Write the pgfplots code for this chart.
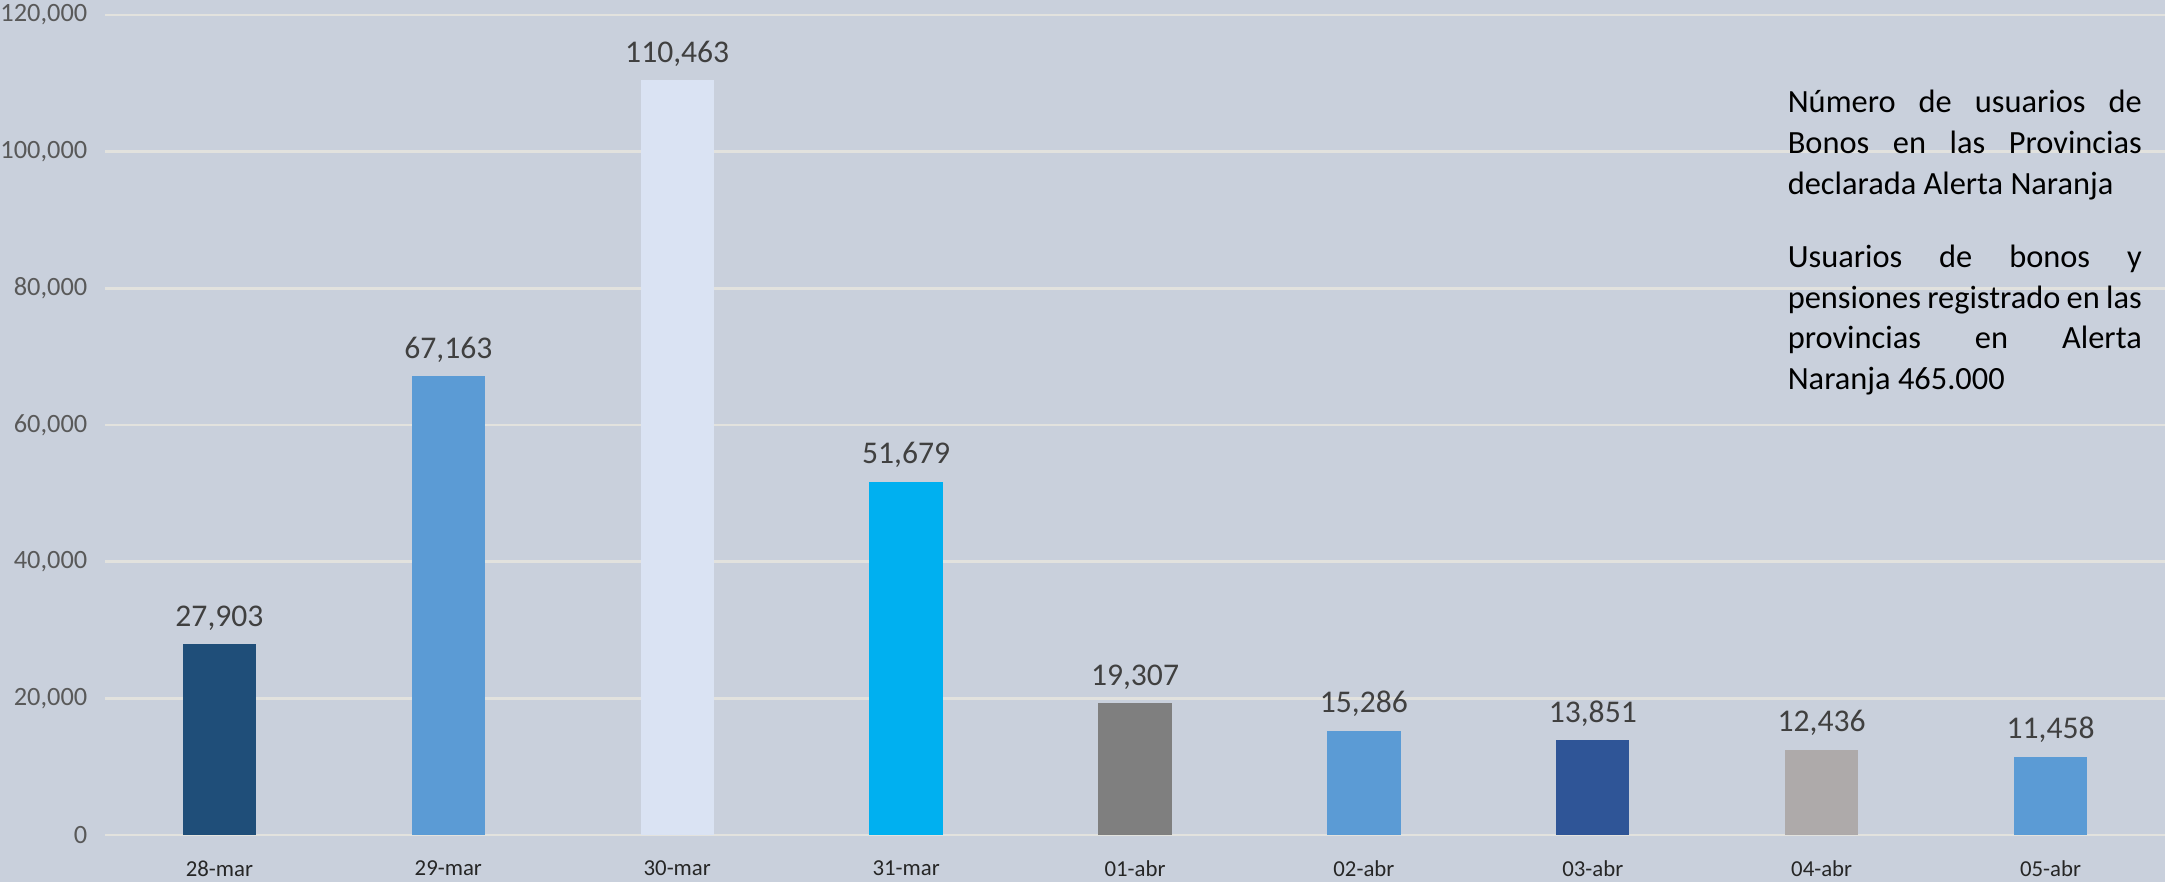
\documentclass[border=0pt]{standalone}
\usepackage{pgfplots}
\pgfplotsset{compat=1.18}
\usepackage{fontspec}
\setmainfont{Carlito}
\definecolor{bgc}{HTML}{C9D0DC}
\definecolor{gridc}{HTML}{E2E2DE}
\definecolor{cA}{HTML}{1F4E79}
\definecolor{cB}{HTML}{5B9BD5}
\definecolor{cC}{HTML}{DAE3F3}
\definecolor{cD}{HTML}{00B0F0}
\definecolor{cE}{HTML}{7F7F7F}
\definecolor{cF}{HTML}{2F5597}
\definecolor{cG}{HTML}{AEAAAA}
\newcommand{\jl}[1]{\makebox[88.5pt][s]{#1}}
\begin{document}
\begin{tikzpicture}
\fill[bgc] (0,0) rectangle (541.25pt,220.5pt);
\begin{axis}[
  at={(26.25pt,11.75pt)}, anchor=south west,
  scale only axis, width=515pt, height=205pt,
  xmin=-0.5, xmax=8.5, ymin=0, ymax=120000,
  ybar, bar shift=0pt, bar width=0.32,
  axis line style={draw=none},
  major tick length=0pt,
  xtick={0,1,2,3,4,5,6,7,8},
  xticklabels={28-mar,29-mar,30-mar,31-mar,01-abr,02-abr,03-abr,04-abr,05-abr},
  ytick={0,20000,40000,60000,80000,100000,120000},
  ymajorgrids, grid style={gridc, line width=0.6pt},
  /pgf/number format/assume math mode=true,
  /pgf/number format/.cd, fixed, precision=0, 1000 sep={,},
  /pgfplots/.cd,
  scaled y ticks=false,
  yticklabel style={font=\fontsize{6.6}{7.5}\selectfont, text=black!65, xshift=-0.9pt},
  xticklabel style={font=\fontsize{5.7}{7}\selectfont, text=black!85, yshift=-3pt},
  nodes near coords,
  every node near coord/.append style={font=\fontsize{7.9}{9}\selectfont, text=black!75, inner sep=3.3pt},
  clip=false,
]
\addplot[fill=cA, draw=none] coordinates {(0,27903)};
\addplot[fill=cB, draw=none] coordinates {(1,67163)};
\addplot[fill=cC, draw=none] coordinates {(2,110463)};
\addplot[fill=cD, draw=none] coordinates {(3,51679)};
\addplot[fill=cE, draw=none] coordinates {(4,19307)};
\addplot[fill=cB, draw=none] coordinates {(5,15286)};
\addplot[fill=cF, draw=none] coordinates {(6,13851)};
\addplot[fill=cG, draw=none] coordinates {(7,12436)};
\addplot[fill=cB, draw=none] coordinates {(8,11458)};
\end{axis}
\node[anchor=north west, inner sep=0pt, align=left,
  font=\fontsize{8.1}{10.2}\selectfont] at (446.75pt,198.1pt)
  {\jl{Número de usuarios de}\\ \jl{Bonos en las Provincias}\\ declarada Alerta Naranja\\[8pt]
   \jl{Usuarios de bonos y}\\ \jl{pensiones registrado en las}\\ \jl{provincias en Alerta}\\ Naranja 465.000};
\pgfresetboundingbox
\path[use as bounding box] (0,0) rectangle (541.25pt,220.5pt);
\end{tikzpicture}
\end{document}
